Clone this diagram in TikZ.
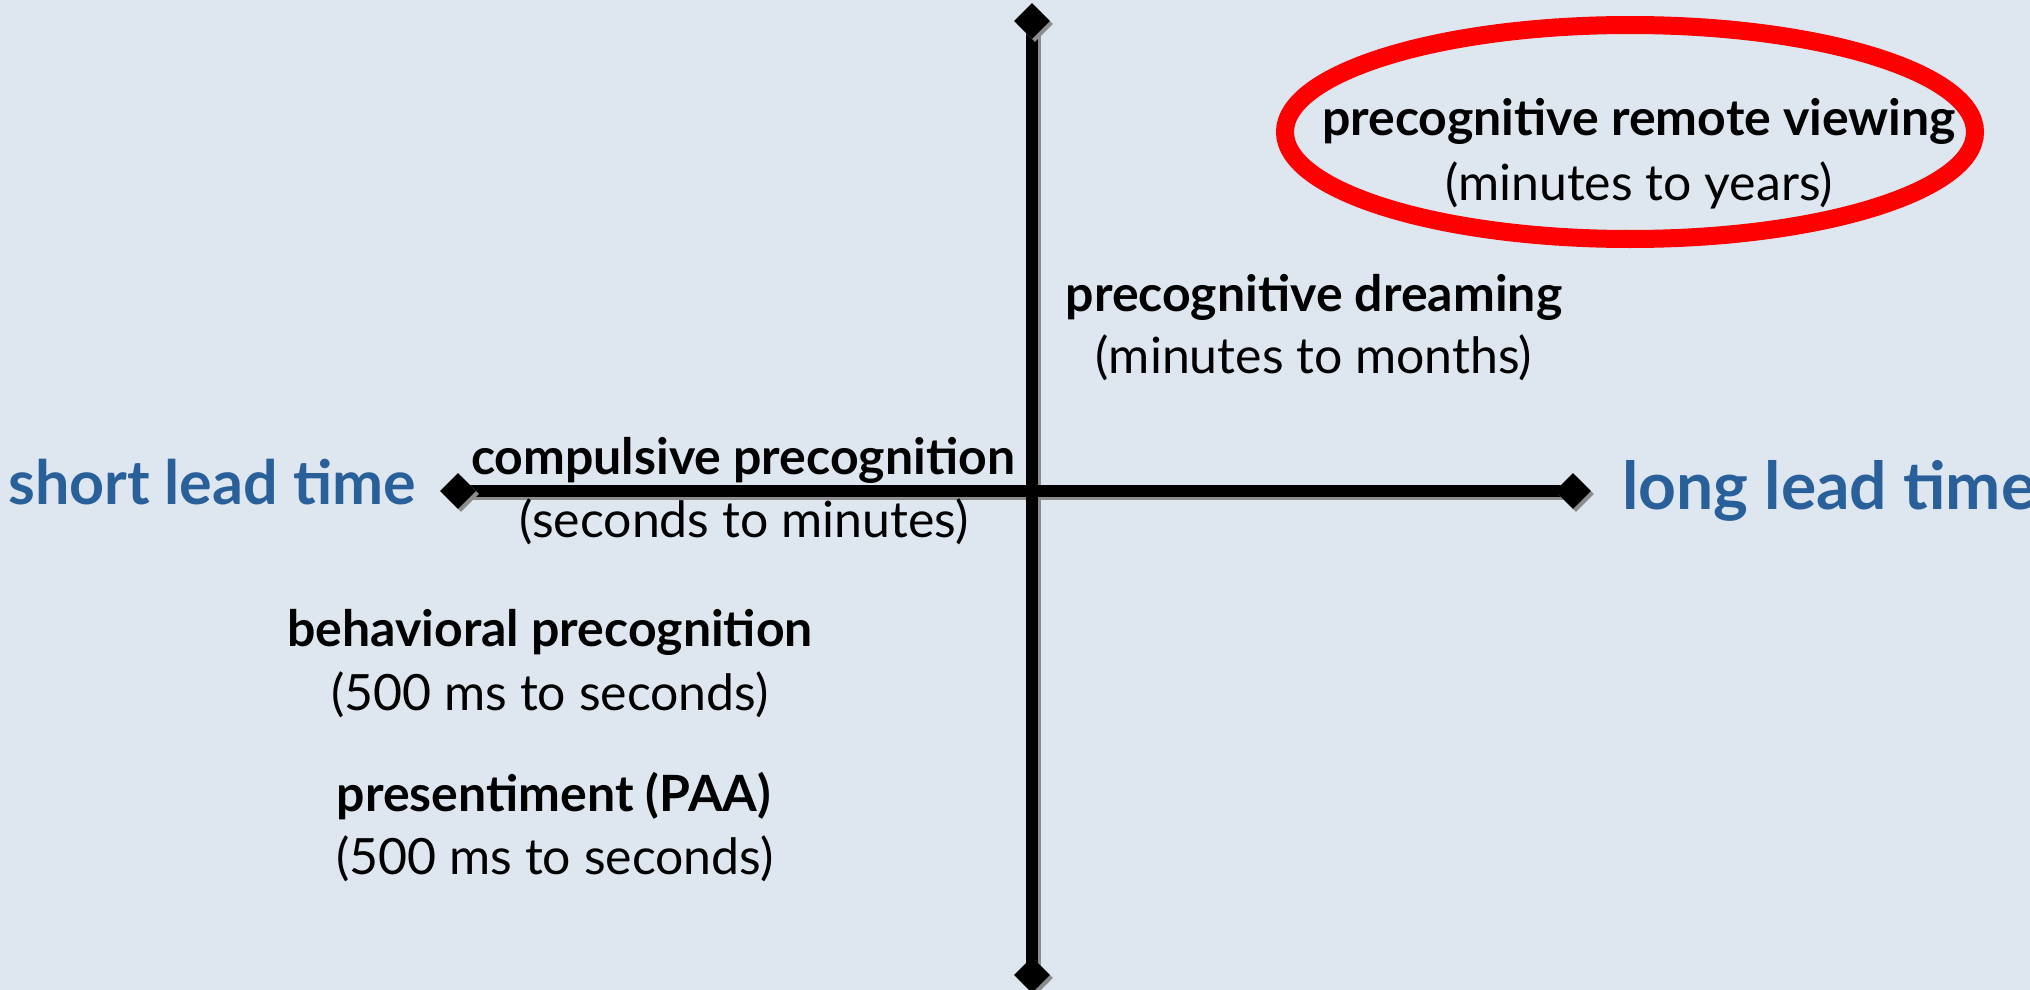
\documentclass[tikz,border=0pt]{standalone}
\usepackage{fontspec}
\setmainfont{Lato}
\usetikzlibrary{shapes.geometric,shadows,backgrounds}

\definecolor{bgcol}{RGB}{222,230,240}
\definecolor{leadblue}{RGB}{42,96,153}
\definecolor{shadowgray}{RGB}{140,140,140}

\tikzset{
  axistip/.style={diamond, fill=black, inner sep=0pt, minimum size=36pt,
    general shadow={fill=shadowgray, shadow xshift=3pt, shadow yshift=-3pt}},
  axisline/.style={line width=12pt, black},
  axisshadow/.style={line width=12pt, shadowgray, transform canvas={shift={(3pt,-3pt)}}},
  itemname/.style={anchor=base, inner sep=0pt, font=\fontsize{50}{60}\selectfont\bfseries},
  itemspan/.style={anchor=base, inner sep=0pt, font=\fontsize{50}{60}\selectfont},
  leadlabel/.style={anchor=base west, inner sep=0pt, text=leadblue,
    font=\fontsize{#1}{#1}\selectfont\bfseries},
  ring/.style={draw=red, line width=18pt},
}

\begin{document}
\begin{tikzpicture}[x=1pt,y=-1pt]
\useasboundingbox (0,0) rectangle (2030,990);

% axis end markers
\node[axistip] (top)    at (1032,21)  {};
\node[axistip] (bottom) at (1032,975) {};
\node[axistip] (left)   at (458,491)  {};
\node[axistip] (right)  at (1573,491) {};

% background and the two axes behind the markers
\begin{scope}[on background layer]
  \fill[bgcol] (0,0) rectangle (2030,990);
  \draw[axisshadow] (left.center) -- (right.center);
  \draw[axisshadow] (top.center) -- (bottom.center);
  \draw[axisline] (left.center) -- (right.center);
  \draw[axisline] (top.center) -- (bottom.center);
\end{scope}

% ends of the lead-time scale
\node[leadlabel=61] (short) at (8,504)    {short lead time};
\node[leadlabel=66] (long)  at (1622,509) {long lead time};

% phenomena and their lead times
\node[itemname] (rvname) at (1639,135) {precognitive remote viewing};
\node[itemspan] (rvspan) at (1639,200) {(minutes to years)};
\node[itemname] (drname) at (1314,311) {precognitive dreaming};
\node[itemspan] (drspan) at (1314,373) {(minutes to months)};
\node[itemname] (cpname) at (743,474)  {compulsive precognition};
\node[itemspan] (cpspan) at (744,537)  {(seconds to minutes)};
\node[itemname] (bpname) at (550,646)  {behavioral precognition};
\node[itemspan] (bpspan) at (550,710)  {(500 ms to seconds)};
\node[itemname] (psname) at (554,811)  {presentiment (PAA)};
\node[itemspan] (psspan) at (555,874)  {(500 ms to seconds)};

% highlight ring
\coordinate (rvc) at (1630,132);
\draw[ring] (rvc) ellipse [x radius=345pt, y radius=107pt];
\end{tikzpicture}
\end{document}
